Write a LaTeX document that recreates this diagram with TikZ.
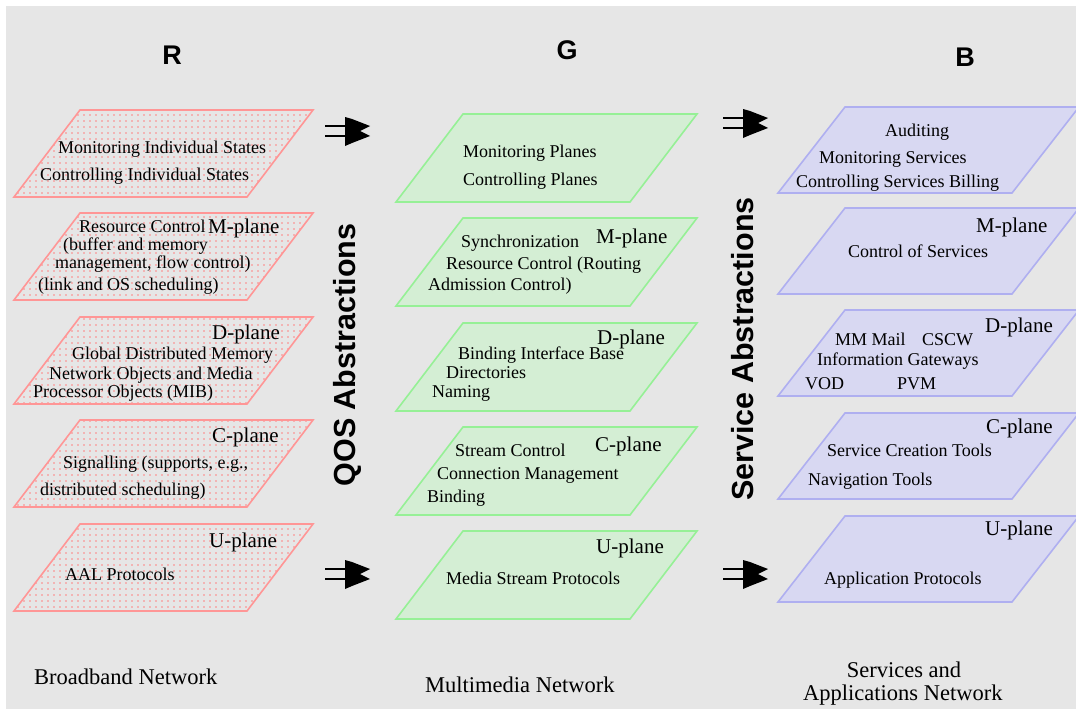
\documentclass[tikz,border=0pt]{standalone}
\usepackage{fontspec}
\setmainfont{Liberation Serif}
\newfontfamily\headfont{Liberation Sans}
\usetikzlibrary{patterns.meta}

\definecolor{paper}{RGB}{230,230,230}
\definecolor{rline}{RGB}{255,150,150}
\definecolor{rdot}{RGB}{255,130,130}
\definecolor{gline}{RGB}{150,240,150}
\definecolor{gfill}{RGB}{212,238,212}
\definecolor{bline}{RGB}{175,175,240}
\definecolor{bfill}{RGB}{216,216,242}

\tikzset{
  rplane/.style={preaction={fill=paper},
                 preaction={pattern={Dots[radius=0.9pt,distance=6pt]}, pattern color=rdot},
                 draw=rline, line width=1.6pt},
  gplane/.style={fill=gfill, draw=gline, line width=1.6pt},
  bplane/.style={fill=bfill, draw=bline, line width=1.6pt},
  txt/.style={anchor=base west, inner sep=0pt, font=\fontsize{18}{20}\selectfont},
  tag/.style={anchor=base west, inner sep=0pt, font=\fontsize{21}{24}\selectfont},
  foot/.style={anchor=base west, inner sep=0pt, font=\fontsize{22.5}{25}\selectfont},
  head/.style={inner sep=0pt, font=\headfont\bfseries\fontsize{27}{30}\selectfont},
  abst/.style={rotate=90, inner sep=0pt, font=\headfont\bfseries\fontsize{30.5}{34}\selectfont},
  pics/flow/.style={code={
    \draw[line width=2pt] (0,-5) -- (22,-5) (0,5) -- (22,5);
    \fill (20,-14) -- (27,-12) -- (45,-5) -- (35,0) -- (45,5) -- (27,12) -- (20,15) -- cycle;
  }}
}

\begin{document}
\begin{tikzpicture}[x=1pt,y=-1pt]
\useasboundingbox (0,0) rectangle (1076,709);
\fill[white] (0,0) rectangle (1076,709);
\fill[paper] (6,6) rectangle (1076,709);

% column headings
\node[head] (hR) at (172,55) {R};
\node[head] (hG) at (567,50) {G};
\node[head] (hB) at (965,57) {B};

% plane stacks
\foreach \t in {110,213,317,420,524}
  \path[rplane] (80,\t) -- ++(233,0) -- ++(-66,87) -- ++(-233,0) -- cycle;
\foreach \t in {114,218,323,427,531}
  \path[gplane] (463,\t) -- ++(234,0) -- ++(-67,88) -- ++(-234,0) -- cycle;
\foreach \t in {107,208,310,413,516}
  \path[bplane] (845,\t) -- ++(234,0) -- ++(-67,86) -- ++(-234,0) -- cycle;

% flow arrows between the networks
\pic at (325,131) {flow};
\pic at (325,574) {flow};
\pic at (723,123) {flow};
\pic at (723,574) {flow};

% abstraction labels
\node[abst] (qos) at (347,355) {QOS Abstractions};
\node[abst] (svc) at (743,349) {Service Abstractions};

% broadband network planes
\node[txt] (r1a) at (58,153) {Monitoring Individual States};
\node[txt] (r1b) at (40,180) {Controlling Individual States};
\node[txt] (r2a) at (79,232) {Resource Control};
\node[tag] (r2t) at (208,233) {M-plane};
\node[txt] (r2b) at (63,250) {(buffer and memory};
\node[txt] (r2c) at (55,268) {management, flow control)};
\node[txt] (r2d) at (38,290) {(link and OS scheduling)};
\node[tag] (r3t) at (212,339) {D-plane};
\node[txt] (r3a) at (72,359) {Global Distributed Memory};
\node[txt] (r3b) at (49,379) {Network Objects and Media};
\node[txt] (r3c) at (33,397) {Processor Objects (MIB)};
\node[tag] (r4t) at (212,442) {C-plane};
\node[txt] (r4a) at (63,468) {Signalling (supports, e.g.,};
\node[txt] (r4b) at (40,495) {distributed scheduling)};
\node[tag] (r5t) at (209,547) {U-plane};
\node[txt] (r5a) at (65,580) {AAL Protocols};

% multimedia network planes
\node[txt] (g1a) at (463,157) {Monitoring Planes};
\node[txt] (g1b) at (463,185) {Controlling Planes};
\node[txt] (g2a) at (461,247) {Synchronization};
\node[tag] (g2t) at (596,243) {M-plane};
\node[txt] (g2b) at (446,269) {Resource Control (Routing};
\node[txt] (g2c) at (428,290) {Admission Control)};
\node[tag] (g3t) at (597,344) {D-plane};
\node[txt] (g3a) at (458,359) {Binding Interface Base};
\node[txt] (g3b) at (446,378) {Directories};
\node[txt] (g3c) at (432,397) {Naming};
\node[tag] (g4t) at (595,451) {C-plane};
\node[txt] (g4a) at (455,456) {Stream Control};
\node[txt] (g4b) at (437,479) {Connection Management};
\node[txt] (g4c) at (427,502) {Binding};
\node[tag] (g5t) at (596,553) {U-plane};
\node[txt] (g5a) at (446,584) {Media Stream Protocols};

% services and applications network planes
\node[txt] (b1a) at (885,136) {Auditing};
\node[txt] (b1b) at (819,163) {Monitoring Services};
\node[txt] (b1c) at (796,187) {Controlling Services Billing};
\node[tag] (b2t) at (976,232) {M-plane};
\node[txt] (b2a) at (848,257) {Control of Services};
\node[tag] (b3t) at (985,332) {D-plane};
\node[txt] (b3a) at (835,345) {MM Mail};
\node[txt] (b3b) at (922,345) {CSCW};
\node[txt] (b3c) at (817,365) {Information Gateways};
\node[txt] (b3d) at (805,389) {VOD};
\node[txt] (b3e) at (897,389) {PVM};
\node[tag] (b4t) at (986,433) {C-plane};
\node[txt] (b4a) at (827,456) {Service Creation Tools};
\node[txt] (b4b) at (808,485) {Navigation Tools};
\node[tag] (b5t) at (985,535) {U-plane};
\node[txt] (b5a) at (824,584) {Application Protocols};

% network names
\node[foot] (fR) at (34,684) {Broadband Network};
\node[foot] (fG) at (425,692) {Multimedia Network};
\node[foot, anchor=base] (fB1) at (904,677) {Services and};
\node[foot] (fB2) at (803,700) {Applications Network};
\end{tikzpicture}
\end{document}
